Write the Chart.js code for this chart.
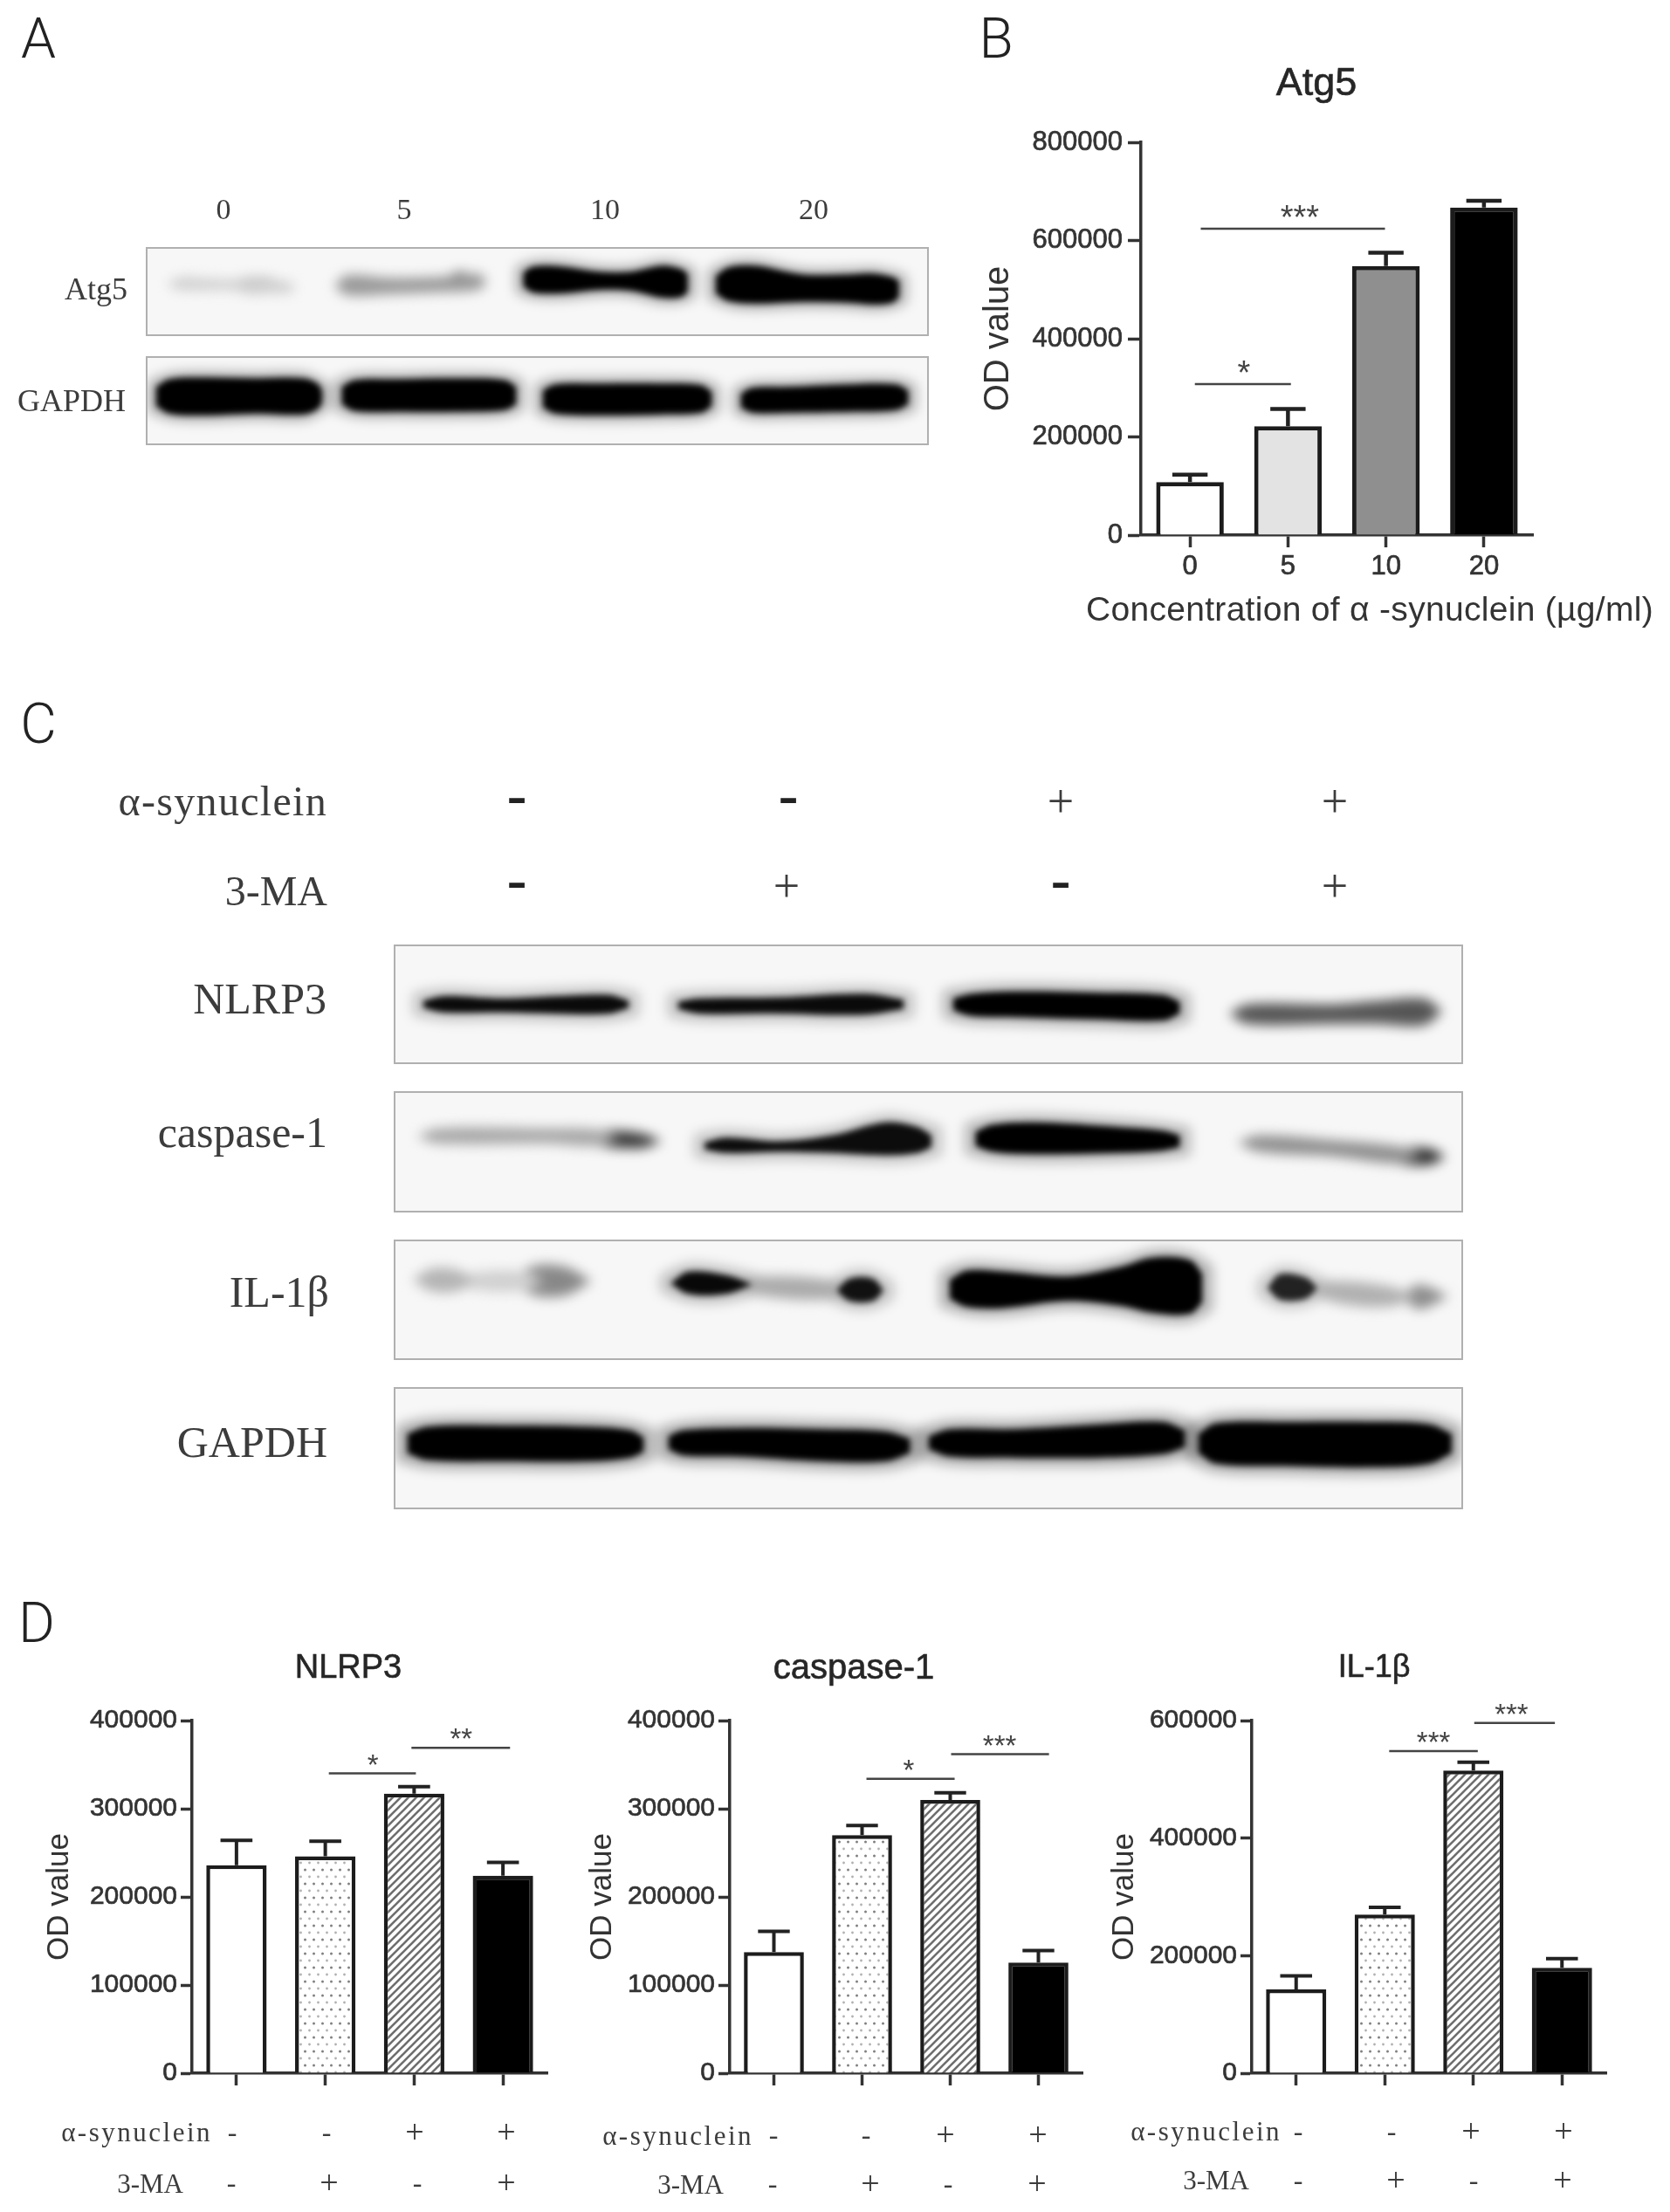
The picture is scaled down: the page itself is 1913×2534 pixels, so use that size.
<!DOCTYPE html>
<html>
<head>
<meta charset="utf-8">
<title>Atg5 and inflammasome blots</title>
<script src="https://cdn.jsdelivr.net/npm/chart.js@4"></script>
<style>
  html, body { margin: 0; padding: 0; background: #fff; }
  #page { position: relative; width: 1913px; height: 2534px; overflow: hidden; }
  #page canvas.bars { position: absolute; filter: blur(0.6px); }
  .txt { position: absolute; white-space: nowrap; line-height: 1; filter: blur(0.4px); }
  .serif { font-family: "Liberation Serif", serif; color: #3c3c3c; }
  .sans { font-family: "Liberation Sans", sans-serif; color: #333; }
  .heading { font-family: "Liberation Sans", sans-serif; color: #262626; -webkit-text-stroke: 0.6px #262626; }
  .letter { font-family: "Roboto", sans-serif; font-weight: 300; font-size: 64px; color: #222; }
  .strip { position: absolute; overflow: hidden; background: #f7f7f7; border: 2px solid #b0b0b0; box-sizing: border-box; }
  .strip canvas { position: absolute; left: 0; top: 0; }
  .strip canvas.soft { filter: blur(7px); }
  .strip canvas.sharp { filter: blur(3.5px); }
</style>
</head>
<body>
<div id="page"></div>
<script>
// chart values
const concLabels = ['0', '5', '10', '20'];
const atg5Values = [108000, 222000, 548000, 667000];
const atg5ErrTops = [123000, 257000, 575000, 681000];

const groups = ['-/-', '-/+', '+/-', '+/+'];
const nlrp3Values = [236000, 246000, 317000, 224000];
const nlrp3ErrTops = [264000, 263000, 325000, 239000];
const caspaseValues = [137500, 270000, 310000, 125500];
const caspaseErrTops = [161000, 281000, 318000, 139000];
const il1bValues = [142500, 270000, 515000, 179500];
const il1bErrTops = [165500, 282000, 529000, 195000];

const synucleinSigns = ['-', '-', '+', '+'];
const maSigns = ['-', '+', '-', '+'];

// from / to / label position are category indexes, value is on the y axis
const atg5Brackets = [
  { from: 0.11, to: 1.99, value: 624000, at: 1.12, stars: '***' },
  { from: 0.05, to: 1.03, value: 307500, at: 0.55, stars: '*' }
];
const nlrp3Brackets = [
  { from: 1.04, to: 2.02, value: 340000, at: 1.535, stars: '*' },
  { from: 1.97, to: 3.08, value: 369000, at: 2.53, stars: '**' }
];
const caspaseBrackets = [
  { from: 1.05, to: 2.05, value: 334000, at: 1.53, stars: '*' },
  { from: 2.01, to: 3.12, value: 362000, at: 2.56, stars: '***' }
];
const il1bBrackets = [
  { from: 1.05, to: 2.05, value: 548000, at: 1.55, stars: '***' },
  { from: 2.01, to: 2.92, value: 596000, at: 2.43, stars: '***' }
];

// blot bands, each outline is [x %, top %, bottom %] of its strip
// bands with a halo go on the sharper layer, the faint ones on the soft layer
const atg5Bands = [
  { shade: '#d0d0d0', pts: [[2.5,41,41],[4,34,48],[10,36,48],[18,38,52],[19,45,45]] },
  { shade: '#aaa', pts: [[3.5,39,39],[5,33,47],[7.5,39,39]] },
  { shade: '#999', pts: [[10,42,42],[12,35,50],[16,35,51],[17.7,43,43]] },
  { shade: '#999', pts: [[24,43,43],[25.5,31,54],[31,34,53],[37,33,51],[42.5,29,48],[43.5,38,38]] },
  { shade: '#666', pts: [[25,42,42],[27,33,52],[31.5,43,43]] },
  { shade: '#333', pts: [[38,38,38],[40,27,47],[43,38,38]] },
  { shade: '#000', halo: 0.3, pts: [[48.2,28,44],[49.5,21,51],[53,21,52],[58,27,48],[62,27,49],[66,20,57],[68.5,24,56],[69.3,30,50]] },
  { shade: '#000', halo: 0.3, pts: [[72.9,32,52],[74.5,22,61],[78,20,64],[84,30,62],[90,30,63],[93,29,65],[95.5,33,63],[96.4,38,56]] }
];
const gapdhABands = [
  { shade: '#000', halo: 0.3, pts: [[1.1,34,56],[2.8,25,65],[7,23,67],[14,24,65],[20,24,66],[21.8,30,60],[22.4,38,52]] },
  { shade: '#000', halo: 0.3, pts: [[24.9,34,54],[26.6,26,62],[32,25,63],[40,24,63],[45.8,26,61],[47.3,34,54]] },
  { shade: '#000', halo: 0.3, pts: [[50.7,38,58],[52.3,31,65],[58,30,67],[66,30,66],[71,32,64],[72.4,40,56]] },
  { shade: '#000', halo: 0.3, pts: [[76.1,42,58],[77.6,35,64],[82,34,64],[90,31,63],[96,31,61],[97.6,38,54]] }
];
const nlrp3Bands = [
  { shade: '#0a0a0a', halo: 0.2, pts: [[2.6,47,53],[4.5,43,57],[10,45,57],[15,43,58],[20,42,58],[21.9,47,53]] },
  { shade: '#0a0a0a', halo: 0.2, pts: [[26.5,48,54],[28.5,45,58],[36,44,58],[44,41,59],[47.7,46,54]] },
  { shade: '#000', halo: 0.25, pts: [[52.3,45,55],[54,41,60],[58,39,61],[66,40,63],[72,42,64],[73.6,48,58]] },
  { shade: '#555', pts: [[78.2,58,58],[80,50,67],[88,50,67],[92,47,67],[96.5,45,68],[98.2,56,56]] },
  { shade: '#333', pts: [[92,56,56],[95,49,64],[98,56,56]] }
];
const caspaseBands = [
  { shade: '#a8a8a8', pts: [[2,37,37],[4,30,43],[14,30,43],[19,31,45],[21,38,38]] },
  { shade: '#3a3a3a', pts: [[15.5,39,39],[19,32,45],[23,34,47],[25,41,41]] },
  { shade: '#0c0c0c', halo: 0.2, pts: [[29,42,48],[31,38,51],[36,41,50],[41,36,51],[46,25,53],[49,29,51],[50.3,36,46]] },
  { shade: '#000', halo: 0.25, pts: [[54.4,33,45],[56,27,50],[60,25,52],[68,29,51],[72,32,49],[73.6,36,46]] },
  { shade: '#909090', pts: [[79,42,42],[81,36,50],[88,40,54],[94,45,60],[96,50,55]] },
  { shade: '#303030', pts: [[90.5,52,52],[94,47,60],[97,47,61],[98.5,54,54]] }
];
const il1bBands = [
  { shade: '#b4b4b4', pts: [[1.6,33,33],[3.5,23,43],[6,25,42],[7.4,34,34]] },
  { shade: '#d0d0d0', pts: [[5,34,34],[8,26,42],[12,26,42],[14,34,34]] },
  { shade: '#888', pts: [[10.8,34,34],[13,21,46],[16,22,46],[18.4,34,34]] },
  { shade: '#aaa', pts: [[30,36,36],[34,30,46],[40,32,50],[44,42,42]] },
  { shade: '#080808', halo: 0.22, pts: [[25.8,36,36],[27.5,26,45],[31,29,45],[33.5,37,37]] },
  { shade: '#111', halo: 0.2, pts: [[41.4,42,42],[42.6,32,51],[44.8,32,51],[45.8,42,42]] },
  { shade: '#000', halo: 0.28, pts: [[52,33,49],[53.6,25,56],[57,26,57],[63,30,51],[68,22,55],[71,14,61],[74.5,16,62],[75.7,28,52]] },
  { shade: '#b0b0b0', pts: [[85,40,40],[88,34,52],[93,38,56],[96,47,47]] },
  { shade: '#222', halo: 0.18, pts: [[81.8,40,40],[83,28,50],[85.4,31,49],[86.5,40,40]] },
  { shade: '#8c8c8c', pts: [[94.4,47,47],[96,37,58],[98.8,47,47]] }
];
const gapdhCBands = [
  { shade: '#000', halo: 0.3, pts: [[1.1,38,54],[3,32,60],[10,31,61],[18,32,61],[22,35,58],[23.3,41,53]] },
  { shade: '#000', halo: 0.3, pts: [[25.6,40,51],[27,35,56],[32,33,57],[40,34,61],[46,36,61],[48.3,42,54]] },
  { shade: '#000', halo: 0.3, pts: [[50,40,51],[52,34,57],[58,34,58],[66,30,58],[72,28,55],[74.1,35,49]] },
  { shade: '#000', halo: 0.3, pts: [[75.3,38,54],[77,29,63],[84,28,65],[92,28,66],[97,30,63],[99.1,38,54]] }
];

const page = document.getElementById('page');
Chart.defaults.font.family = '"Liberation Sans", sans-serif';
Chart.defaults.color = '#333';
Chart.defaults.animation = false;
Chart.defaults.responsive = false;
Chart.defaults.plugins.legend.display = false;
Chart.defaults.plugins.tooltip.enabled = false;

function label(text, x, y, cls, css, anchor) {
  const el = document.createElement('div');
  el.className = 'txt ' + cls;
  el.textContent = text;
  el.style.cssText = 'left:' + x + 'px;top:' + y + 'px;' + (css || '') +
    'transform:translate(' + (anchor === 'right' ? '-100%' : '-50%') + ',-50%);';
  page.appendChild(el);
}

function makeTile(w, h, paint) {
  const c = document.createElement('canvas');
  c.width = w; c.height = h;
  const g = c.getContext('2d');
  g.fillStyle = '#fff';
  g.fillRect(0, 0, w, h);
  paint(g);
  return g.createPattern(c, 'repeat');
}
const dots = makeTile(10, 16, g => {
  g.fillStyle = '#808080';
  g.beginPath(); g.arc(2.5, 3, 1.5, 0, 7); g.fill();
  g.fillStyle = '#b0b0b0';
  g.beginPath(); g.arc(7.5, 11, 1.4, 0, 7); g.fill();
});
const hatch = makeTile(9, 9, g => {
  g.strokeStyle = '#6e6e6e';
  g.lineWidth = 2.6;
  [[-9, 9, 9, -9], [0, 9, 9, 0], [0, 18, 18, 0]].forEach(l => {
    g.beginPath(); g.moveTo(l[0], l[1]); g.lineTo(l[2], l[3]); g.stroke();
  });
});

const annotations = {
  id: 'annotations',
  afterDatasetsDraw(chart, args, opts) {
    const { ctx, scales: { x, y } } = chart;
    const half = (x.getPixelForValue(1) - x.getPixelForValue(0)) * 0.18;
    ctx.save();
    ctx.strokeStyle = '#222';
    ctx.lineWidth = opts.errWidth;
    opts.errTops.forEach((top, i) => {
      const cx = x.getPixelForValue(i);
      const yTop = y.getPixelForValue(top);
      ctx.beginPath();
      ctx.moveTo(cx, y.getPixelForValue(chart.data.datasets[0].data[i]));
      ctx.lineTo(cx, yTop);
      ctx.moveTo(cx - half, yTop);
      ctx.lineTo(cx + half, yTop);
      ctx.stroke();
    });
    ctx.strokeStyle = '#444';
    ctx.lineWidth = 2.5;
    ctx.fillStyle = '#444';
    ctx.textAlign = 'center';
    ctx.textBaseline = 'alphabetic';
    ctx.font = opts.starSize + 'px "Liberation Sans"';
    opts.brackets.forEach(b => {
      const py = y.getPixelForValue(b.value);
      ctx.beginPath();
      ctx.moveTo(x.getPixelForValue(b.from), py);
      ctx.lineTo(x.getPixelForValue(b.to), py);
      ctx.stroke();
      ctx.fillText(b.stars, x.getPixelForValue(b.at), py - opts.starGap + opts.starSize * 0.55);
    });
    ctx.restore();
  }
};

function barPanel(p) {
  const odLh = p.odSize * 1.2;
  const left = p.odX - odLh / 2;
  const right = p.right + 30;
  const top = p.top - 40;
  const xHeight = p.xHeight;
  const canvas = document.createElement('canvas');
  canvas.className = 'bars';
  canvas.width = right - left;
  canvas.height = p.bottom - top + xHeight;
  canvas.style.left = left + 'px';
  canvas.style.top = top + 'px';
  page.appendChild(canvas);
  new Chart(canvas, {
    type: 'bar',
    data: {
      labels: p.labels,
      datasets: [{
        data: p.values,
        backgroundColor: p.fills,
        borderColor: '#1c1c1c',
        borderWidth: p.barBorder,
        categoryPercentage: 1,
        barPercentage: p.barPercent
      }]
    },
    options: {
      layout: { autoPadding: false, padding: { top: p.top - top, right: right - p.right } },
      plugins: {
        annotations: {
          errTops: p.errTops,
          brackets: p.brackets,
          errWidth: p.barBorder - 0.5,
          starSize: p.starSize,
          starGap: p.starGap
        }
      },
      scales: {
        x: {
          offset: true,
          grid: { offset: false, drawOnChartArea: false, tickLength: 14, tickWidth: 3.5, tickColor: '#333' },
          border: { color: '#333', width: 3.5 },
          ticks: {
            display: p.showXTicks,
            padding: 4,
            maxRotation: 0,
            autoSkip: false,
            font: { size: p.tickSize },
            textStrokeColor: '#333',
            textStrokeWidth: 0.7
          },
          afterFit: s => { s.height = xHeight; }
        },
        y: {
          min: 0,
          max: p.yMax,
          grid: { drawOnChartArea: false, tickLength: p.yTickLength, tickWidth: 3.5, tickColor: '#333' },
          border: { color: '#333', width: 3.5 },
          ticks: {
            stepSize: p.yStep,
            padding: p.yTickPad,
            font: { size: p.tickSize },
            textStrokeColor: '#333',
            textStrokeWidth: 0.7,
            callback: v => String(v)
          },
          title: { display: true, text: 'OD value', padding: 0, color: '#333', font: { size: p.odSize } },
          afterFit: s => { s.width = p.left - left; }
        }
      }
    },
    plugins: [annotations]
  });
}

function blotLayer(box, w, h, cls, outlines) {
  const canvas = document.createElement('canvas');
  canvas.className = cls;
  canvas.width = w;
  canvas.height = h;
  box.appendChild(canvas);
  const base = { showLine: true, tension: 0.35, pointRadius: 0, borderWidth: 0 };
  const datasets = [];
  outlines.forEach(o => {
    datasets.push(Object.assign({}, base, { data: o.pts.map(q => ({ x: q[0], y: q[1] })), fill: '+1', backgroundColor: o.colour }));
    datasets.push(Object.assign({}, base, { data: o.pts.map(q => ({ x: q[0], y: q[2] })), fill: false }));
  });
  new Chart(canvas, {
    type: 'scatter',
    data: { datasets },
    options: {
      layout: { autoPadding: false, padding: 0 },
      scales: {
        x: { display: false, min: 0, max: 100 },
        y: { display: false, min: 0, max: 100, reverse: true }
      }
    }
  });
}

function blotStrip(bands, x, y, w, h) {
  const box = document.createElement('div');
  box.className = 'strip';
  box.style.cssText = 'left:' + x + 'px;top:' + y + 'px;width:' + w + 'px;height:' + h + 'px;';
  page.appendChild(box);
  const soft = [];
  bands.forEach(b => {
    if (b.halo) {
      const n = b.pts.length - 1;
      soft.push({
        colour: 'rgba(0,0,0,' + b.halo + ')',
        pts: b.pts.map((q, i) => [q[0] + (i === 0 ? -1 : i === n ? 1 : 0), q[1] - 7, q[2] + 7])
      });
    } else {
      soft.push({ colour: b.shade, pts: b.pts });
    }
  });
  blotLayer(box, w - 4, h - 4, 'soft', soft);
  blotLayer(box, w - 4, h - 4, 'sharp', bands.filter(b => b.halo).map(b => ({ colour: b.shade, pts: b.pts })));
}

// panel letters
label('A', 44, 45, 'letter');
label('B', 1141, 45, 'letter');
label('C', 44, 830, 'letter');
label('D', 42, 1860, 'letter');

// panel A
concLabels.forEach((t, i) => label(t, [256, 463, 693, 932][i], 240, 'serif', 'font-size:34px;'));
label('Atg5', 146, 331, 'serif', 'font-size:36px;', 'right');
label('GAPDH', 144, 459, 'serif', 'font-size:36px;', 'right');
blotStrip(atg5Bands, 167, 283, 897, 102);
blotStrip(gapdhABands, 167, 408, 897, 102);

// panel B
label('Atg5', 1508, 93, 'heading', 'font-size:45px;');
barPanel({
  labels: concLabels, values: atg5Values, errTops: atg5ErrTops, brackets: atg5Brackets,
  fills: ['#fff', '#e3e3e3', '#8f8f8f', '#000'],
  left: 1307, right: 1756, top: 163, bottom: 613, xHeight: 60,
  yMax: 800000, yStep: 200000, yTickLength: 15, yTickPad: 6, tickSize: 31,
  odX: 1144, odSize: 40, barBorder: 5, barPercent: 0.69, showXTicks: true,
  starSize: 38, starGap: 21
});
label('Concentration of α -synuclein (µg/ml)', 1569, 697, 'sans', 'font-size:39px;letter-spacing:0.3px;');

// panel C
label('α-synuclein', 375, 918, 'serif', 'font-size:48px;letter-spacing:1.3px;', 'right');
label('3-MA', 375, 1021, 'serif', 'font-size:48px;', 'right');
function signs(list, xs, y, plusSize, minusCss, minusLift) {
  list.forEach((s, i) => {
    const css = s === '+' ? 'font-size:' + plusSize + 'px;' : minusCss;
    label(s, xs[i], s === '+' ? y : y - minusLift, 'serif', css);
  });
}
const cMinus = 'font-size:68px;font-weight:bold;color:#222;';
signs(synucleinSigns, [592, 903, 1215, 1529], 918, 54, cMinus, 8);
signs(maSigns, [592, 901, 1215, 1529], 1015, 54, cMinus, 8);
label('NLRP3', 374, 1144, 'serif', 'font-size:50px;', 'right');
label('caspase-1', 375, 1297, 'serif', 'font-size:50px;', 'right');
label('IL-1β', 377, 1480, 'serif', 'font-size:50px;', 'right');
label('GAPDH', 375, 1652, 'serif', 'font-size:50px;', 'right');
blotStrip(nlrp3Bands, 451, 1082, 1225, 137);
blotStrip(caspaseBands, 451, 1250, 1225, 139);
blotStrip(il1bBands, 451, 1420, 1225, 138);
blotStrip(gapdhCBands, 451, 1589, 1225, 140);

// panel D
const dFills = ['#fff', dots, hatch, '#000'];
const dShared = {
  labels: groups, fills: dFills,
  top: 1971, bottom: 2375, xHeight: 30, yTickLength: 13, yTickPad: 4, tickSize: 30,
  odSize: 35, barBorder: 4.5, barPercent: 0.68, showXTicks: false,
  starSize: 33, starGap: 17
};
label('NLRP3', 399, 1909, 'heading', 'font-size:38px;');
label('caspase-1', 978, 1909, 'heading', 'font-size:40px;');
label('IL-1β', 1574, 1909, 'heading', 'font-size:36px;');
barPanel(Object.assign({}, dShared, {
  values: nlrp3Values, errTops: nlrp3ErrTops, brackets: nlrp3Brackets,
  left: 220, right: 627, yMax: 400000, yStep: 100000, odX: 68
}));
barPanel(Object.assign({}, dShared, {
  values: caspaseValues, errTops: caspaseErrTops, brackets: caspaseBrackets,
  left: 836, right: 1240, yMax: 400000, yStep: 100000, odX: 690
}));
barPanel(Object.assign({}, dShared, {
  values: il1bValues, errTops: il1bErrTops, brackets: il1bBrackets,
  left: 1434, right: 1840, yMax: 600000, yStep: 200000, odX: 1288
}));

const dMinus = 'font-size:32px;';
const dText = 'font-size:31px;';
const dSyn = dText + 'letter-spacing:2.5px;';
label('α-synuclein', 243, 2442, 'serif', dSyn, 'right');
label('3-MA', 210, 2501, 'serif', dText, 'right');
signs(synucleinSigns, [266, 374, 475, 580], 2442, 38, dMinus, 0);
signs(maSigns, [265, 377, 478, 580], 2500, 38, dMinus, 0);
label('α-synuclein', 863, 2446, 'serif', dSyn, 'right');
label('3-MA', 829, 2502, 'serif', dText, 'right');
signs(synucleinSigns, [886, 992, 1083, 1189], 2445, 38, dMinus, 0);
signs(maSigns, [885, 997, 1086, 1188], 2501, 38, dMinus, 0);
label('α-synuclein', 1468, 2441, 'serif', dSyn, 'right');
label('3-MA', 1431, 2497, 'serif', dText, 'right');
signs(synucleinSigns, [1487, 1594, 1685, 1791], 2441, 38, dMinus, 0);
signs(maSigns, [1487, 1599, 1688, 1790], 2497, 38, dMinus, 0);
</script>
</body>
</html>
